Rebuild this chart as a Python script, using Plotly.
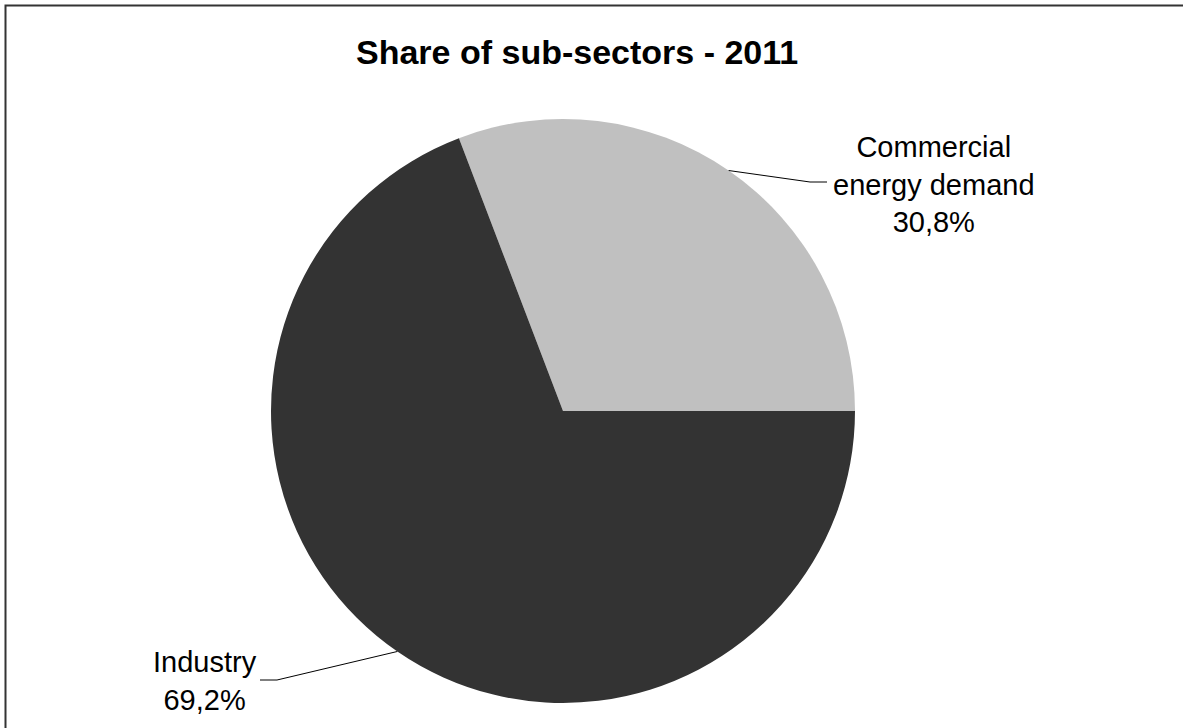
import math
import plotly.graph_objects as go

# Share of sub-sectors, 2011 (percent)
sectors = ["Commercial<br>energy demand", "Industry"]
shares = [30.8, 69.2]
colors = ["#C0C0C0", "#333333"]

W, H = 1183, 728
FONT = "Liberation Sans, Arial, sans-serif"

# pie geometry in pixels
CX, CY, R = 563, 411, 292

total = sum(shares)
first_sweep = shares[0] / total * 360
# slices run clockwise; the first one ends at 3 o'clock
rotation = 90 - first_sweep


def px(x):
    return x / W


def py(y):
    return 1 - y / H


def fmt(v):
    return f"{v:.1f}".replace(".", ",") + "%"


fig = go.Figure(
    go.Pie(
        labels=sectors,
        values=shares,
        sort=False,
        direction="clockwise",
        rotation=rotation,
        marker=dict(colors=colors, line=dict(width=0)),
        textinfo="none",
        hoverinfo="label+percent",
        showlegend=False,
        domain=dict(x=[px(CX - R), px(CX + R)], y=[py(CY + R), py(CY - R)]),
    )
)

# label placement: (text centre x, text centre y, elbow x, line end x, line y)
label_pos = [
    (934, 184, 810, 827, 182),
    (205, 681, 277, 260, 680),
]

shapes = []
annotations = []
# math angle (deg, counterclockwise from 3 o'clock) where the first slice starts
start_math = first_sweep
acc = 0.0
for i, (name, v) in enumerate(zip(sectors, shares)):
    mid = start_math - (acc + v / 2) / total * 360
    acc += v
    ex = CX + R * math.cos(math.radians(mid))
    ey = CY - R * math.sin(math.radians(mid))
    tx, ty, elbow_x, end_x, ly = label_pos[i]
    shapes.append(dict(type="path", xref="paper", yref="paper",
                       path=f"M {px(ex)},{py(ey)} L {px(elbow_x)},{py(ly)} L {px(end_x)},{py(ly)}",
                       line=dict(color="#000000", width=1)))
    annotations.append(dict(
        x=px(tx), y=py(ty), xref="paper", yref="paper",
        text=f"{name}<br>{fmt(v)}", showarrow=False,
        xanchor="center", yanchor="middle", align="center",
        font=dict(family=FONT, size=29, color="#000000"),
    ))

# chart title
annotations.append(dict(
    x=px(577), y=py(52), xref="paper", yref="paper",
    text="<b>Share of sub-sectors - 2011</b>", showarrow=False,
    xanchor="center", yanchor="middle",
    font=dict(family=FONT, size=34, color="#000000"),
))

# outer chart frame
shapes.append(dict(type="rect", xref="paper", yref="paper",
                   x0=px(5.5), y0=-0.05, x1=1.05, y1=py(5.5),
                   line=dict(color="#333333", width=2), fillcolor="rgba(0,0,0,0)"))

fig.update_layout(
    width=W, height=H,
    margin=dict(l=0, r=0, t=0, b=0),
    paper_bgcolor="#FFFFFF",
    plot_bgcolor="#FFFFFF",
    shapes=shapes,
    annotations=annotations,
)

fig.write_html("out.html")
